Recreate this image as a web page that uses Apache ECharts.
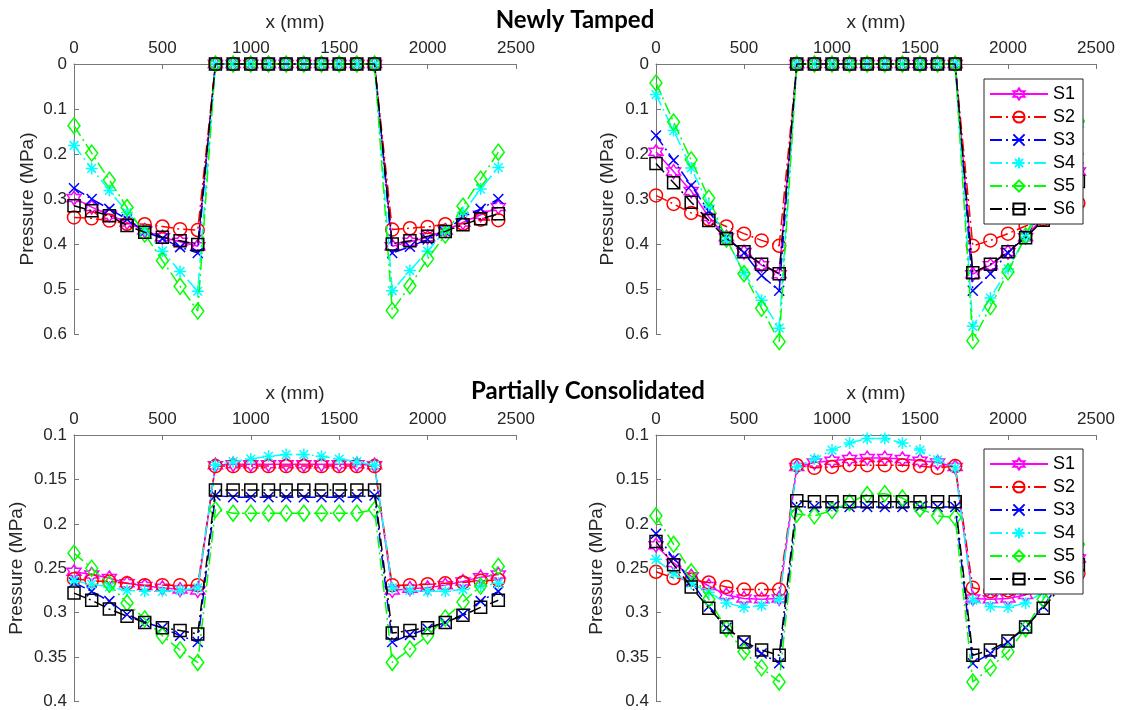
<!DOCTYPE html>
<html><head><meta charset="utf-8">
<script src="https://cdn.jsdelivr.net/npm/echarts@6/dist/echarts.min.js"></script>
<style>html,body{margin:0;padding:0;background:#fff}#c{width:1121px;height:710px}</style>
</head><body><div id="c"></div>
<script>
// ---------- data ----------
const xPos = [0,100,200,300,400,500,600,700,800,900,1000,1100,1200,1300,1400,1500,1600,1700,1800,1900,2000,2100,2200,2300,2400];
const seriesNames = ['S1','S2','S3','S4','S5','S6'];
const panelTitles = ['Newly Tamped','Partially Consolidated'];

// Newly Tamped - left panel
const ntL_S1 = [0.298,0.318,0.335,0.352,0.370,0.385,0.395,0.405, 0,0,0,0,0,0,0,0,0,0, 0.405,0.395,0.385,0.370,0.352,0.335,0.318];
const ntL_S2 = [0.341,0.343,0.348,0.355,0.356,0.361,0.367,0.369, 0,0,0,0,0,0,0,0,0,0, 0.368,0.365,0.362,0.356,0.355,0.346,0.347];
const ntL_S3 = [0.276,0.300,0.322,0.345,0.372,0.388,0.407,0.420, 0,0,0,0,0,0,0,0,0,0, 0.420,0.406,0.390,0.372,0.340,0.322,0.300];
const ntL_S4 = [0.181,0.232,0.281,0.330,0.370,0.416,0.461,0.505, 0,0,0,0,0,0,0,0,0,0, 0.504,0.459,0.416,0.370,0.330,0.278,0.230];
const ntL_S5 = [0.137,0.198,0.258,0.319,0.378,0.437,0.494,0.549, 0,0,0,0,0,0,0,0,0,0, 0.548,0.493,0.433,0.380,0.316,0.256,0.196];
const ntL_S6 = [0.315,0.326,0.337,0.359,0.374,0.385,0.393,0.401, 0,0,0,0,0,0,0,0,0,0, 0.400,0.393,0.383,0.372,0.357,0.344,0.333];

// Newly Tamped - right panel
const ntR_S1 = [0.195,0.239,0.282,0.340,0.385,0.418,0.447,0.467, 0,0,0,0,0,0,0,0,0,0, 0.467,0.447,0.418,0.385,0.340,0.282,0.239];
const ntR_S2 = [0.292,0.311,0.331,0.345,0.361,0.377,0.392,0.404, 0,0,0,0,0,0,0,0,0,0, 0.404,0.392,0.377,0.360,0.345,0.330,0.309];
const ntR_S3 = [0.159,0.214,0.270,0.327,0.385,0.420,0.470,0.504, 0,0,0,0,0,0,0,0,0,0, 0.504,0.466,0.420,0.380,0.330,0.270,0.210];
const ntR_S4 = [0.068,0.148,0.231,0.314,0.390,0.464,0.525,0.587, 0,0,0,0,0,0,0,0,0,0, 0.583,0.520,0.455,0.385,0.310,0.228,0.140];
const ntR_S5 = [0.042,0.129,0.213,0.298,0.389,0.466,0.543,0.617, 0,0,0,0,0,0,0,0,0,0, 0.615,0.539,0.462,0.382,0.295,0.210,0.127];
const ntR_S6 = [0.221,0.264,0.307,0.348,0.388,0.417,0.445,0.466, 0,0,0,0,0,0,0,0,0,0, 0.464,0.445,0.417,0.386,0.347,0.305,0.261];

// Partially Consolidated - left panel
const pcL_S1 = [0.254,0.257,0.261,0.267,0.270,0.272,0.274,0.275, 0.134,0.133,0.133,0.133,0.133,0.133,0.133,0.133,0.133,0.134, 0.275,0.273,0.272,0.269,0.265,0.260,0.257];
const pcL_S2 = [0.262,0.264,0.265,0.267,0.269,0.269,0.269,0.269, 0.135,0.135,0.135,0.135,0.135,0.135,0.135,0.135,0.135,0.135, 0.269,0.269,0.268,0.267,0.266,0.264,0.263];
const pcL_S3 = [0.266,0.276,0.287,0.302,0.311,0.317,0.326,0.333, 0.168,0.170,0.170,0.170,0.170,0.170,0.170,0.170,0.170,0.168, 0.333,0.325,0.318,0.311,0.302,0.287,0.276];
const pcL_S4 = [0.264,0.268,0.271,0.275,0.276,0.276,0.275,0.272, 0.134,0.130,0.127,0.124,0.122,0.122,0.124,0.127,0.130,0.134, 0.272,0.275,0.276,0.276,0.274,0.270,0.267];
const pcL_S5 = [0.233,0.250,0.268,0.289,0.307,0.326,0.342,0.356, 0.184,0.188,0.188,0.188,0.188,0.188,0.188,0.188,0.188,0.184, 0.356,0.341,0.326,0.306,0.288,0.270,0.248];
const pcL_S6 = [0.278,0.286,0.296,0.304,0.311,0.317,0.320,0.324, 0.162,0.162,0.162,0.162,0.162,0.162,0.162,0.162,0.162,0.162, 0.323,0.320,0.317,0.311,0.303,0.294,0.286];

// Partially Consolidated - right panel
const pcR_S1 = [0.224,0.244,0.259,0.270,0.280,0.284,0.285,0.284, 0.136,0.131,0.129,0.127,0.126,0.126,0.127,0.129,0.131,0.136, 0.284,0.285,0.284,0.280,0.270,0.259,0.239];
const pcR_S2 = [0.254,0.261,0.263,0.266,0.271,0.274,0.274,0.274, 0.134,0.137,0.136,0.134,0.134,0.134,0.134,0.135,0.137,0.135, 0.272,0.276,0.275,0.272,0.266,0.262,0.256];
const pcR_S3 = [0.211,0.239,0.265,0.293,0.317,0.333,0.346,0.357, 0.181,0.181,0.181,0.181,0.181,0.181,0.181,0.181,0.181,0.181, 0.357,0.346,0.333,0.317,0.293,0.265,0.239];
const pcR_S4 = [0.240,0.256,0.267,0.277,0.289,0.294,0.292,0.285, 0.136,0.127,0.117,0.109,0.104,0.104,0.109,0.117,0.128,0.137, 0.286,0.293,0.294,0.289,0.277,0.267,0.256];
const pcR_S5 = [0.191,0.223,0.254,0.285,0.318,0.344,0.362,0.378, 0.189,0.191,0.185,0.176,0.167,0.166,0.171,0.183,0.191,0.193, 0.378,0.362,0.344,0.318,0.285,0.254,0.223];
const pcR_S6 = [0.220,0.246,0.271,0.295,0.316,0.333,0.342,0.348, 0.174,0.175,0.175,0.175,0.175,0.175,0.175,0.175,0.175,0.175, 0.348,0.342,0.332,0.316,0.295,0.271,0.246];

const panels = [
  [ntL_S1, ntL_S2, ntL_S3, ntL_S4, ntL_S5, ntL_S6],
  [ntR_S1, ntR_S2, ntR_S3, ntR_S4, ntR_S5, ntR_S6],
  [pcL_S1, pcL_S2, pcL_S3, pcL_S4, pcL_S5, pcL_S6],
  [pcR_S1, pcR_S2, pcR_S3, pcR_S4, pcR_S5, pcR_S6]
];

// ---------- styles / layout ----------
const FONT = "'Liberation Sans', Arial, sans-serif";
const HEX = 'path://M0,-10L2.887,-5L8.66,-5L5.774,0L8.66,5L2.887,5L0,10L-2.887,5L-8.66,5L-5.774,0L-8.66,-5L-2.887,-5Z';
const XMARK = 'path://M-1,-1L1,1M-1,1L1,-1';
const AST = 'path://M0,-1L0,1M-1,0L1,0M-0.72,-0.72L0.72,0.72M-0.72,0.72L0.72,-0.72';
const DASHDOT = [12,4,2,4];
const styles = [
  {color:'#FF00FF', symbol:HEX, size:14, line:'solid'},
  {color:'#FF0000', symbol:'circle', size:13, line:DASHDOT},
  {color:'#0000FF', symbol:XMARK, size:10, line:DASHDOT},
  {color:'#00FFFF', symbol:AST, size:12, line:DASHDOT},
  {color:'#00FF00', symbol:'diamond', size:[12,16], line:DASHDOT},
  {color:'#000000', symbol:'rect', size:12, line:DASHDOT}
];
const grids = [
  {left:74, top:64, width:442, height:270},
  {left:656, top:64, width:440, height:270},
  {left:74, top:435, width:442, height:267},
  {left:656, top:435, width:440, height:267}
];
const yRanges = [[0,0.6,0.1],[0,0.6,0.1],[0.1,0.4,0.05],[0.1,0.4,0.05]];
const yNameGaps = [37,39,48,50];

const chart = echarts.init(document.getElementById('c'), null, {renderer:'canvas'});

const xAxes = grids.map((g,i)=>({
  gridIndex:i, type:'value', position:'top', min:0, max:2500, interval:500,
  name:'x (mm)', nameLocation:'middle', nameGap:32,
  nameTextStyle:{fontFamily:FONT, fontSize:19, color:'#262626'},
  axisLine:{show:true, lineStyle:{color:'#777', width:1}},
  axisTick:{show:true, inside:true, length:5, lineStyle:{color:'#777'}},
  axisLabel:{fontFamily:FONT, fontSize:17, color:'#262626', margin:7, showMinLabel:true, showMaxLabel:true,
    formatter:v=>String(Math.round(v))},
  splitLine:{show:false}
}));
const yAxes = grids.map((g,i)=>({
  gridIndex:i, type:'value', inverse:true, min:yRanges[i][0], max:yRanges[i][1], interval:yRanges[i][2],
  name:'Pressure (MPa)', nameLocation:'middle', nameGap:yNameGaps[i],
  nameTextStyle:{fontFamily:FONT, fontSize:19, color:'#262626'},
  axisLine:{show:true, onZero:false, lineStyle:{color:'#777', width:1}},
  axisTick:{show:true, inside:true, length:5, lineStyle:{color:'#777'}},
  axisLabel:{fontFamily:FONT, fontSize:17, color:'#262626', margin:7,
    formatter:v=>String(parseFloat(v.toFixed(3)))},
  splitLine:{show:false}
}));

const series = [];
panels.forEach((vals,pi)=>{
  vals.forEach((arr,si)=>{
    const st = styles[si];
    series.push({
      type:'line', name:seriesNames[si], xAxisIndex:pi, yAxisIndex:pi,
      data: xPos.map((x,k)=>[x, arr[k]]),
      symbol: st.symbol, symbolSize: st.size, showAllSymbol:true, clip:false,
      lineStyle:{color:st.color, width:1.5, type:st.line},
      itemStyle:{color:'rgba(255,255,255,0)', borderColor:st.color, borderWidth:1.5},
      emphasis:{disabled:true}, animation:false, z: 2 + si
    });
  });
});

const legendBase = {
  data: seriesNames, orient:'vertical', left:984,
  itemWidth:58, itemHeight:14, itemGap:5,
  textStyle:{fontFamily:FONT, fontSize:18, color:'#000'},
  backgroundColor:'#fff', borderColor:'#262626', borderWidth:1, borderRadius:0,
  padding:[6,8,6,5], z:20
};

chart.setOption({
  animation:false,
  backgroundColor:'#fff',
  grid: grids,
  xAxis: xAxes,
  yAxis: yAxes,
  series: series,
  legend: [Object.assign({}, legendBase, {top:79}), Object.assign({}, legendBase, {top:449})],
  graphic: [
    {type:'text', x:575, y:20, z:100, style:{text:panelTitles[0], font:"bold 24px Lato, 'Open Sans', sans-serif", fill:'#000', align:'center', verticalAlign:'middle'}},
    {type:'text', x:588, y:391, z:100, style:{text:panelTitles[1], font:"bold 24px Lato, 'Open Sans', sans-serif", fill:'#000', align:'center', verticalAlign:'middle'}}
  ]
});
</script>
</body></html>
